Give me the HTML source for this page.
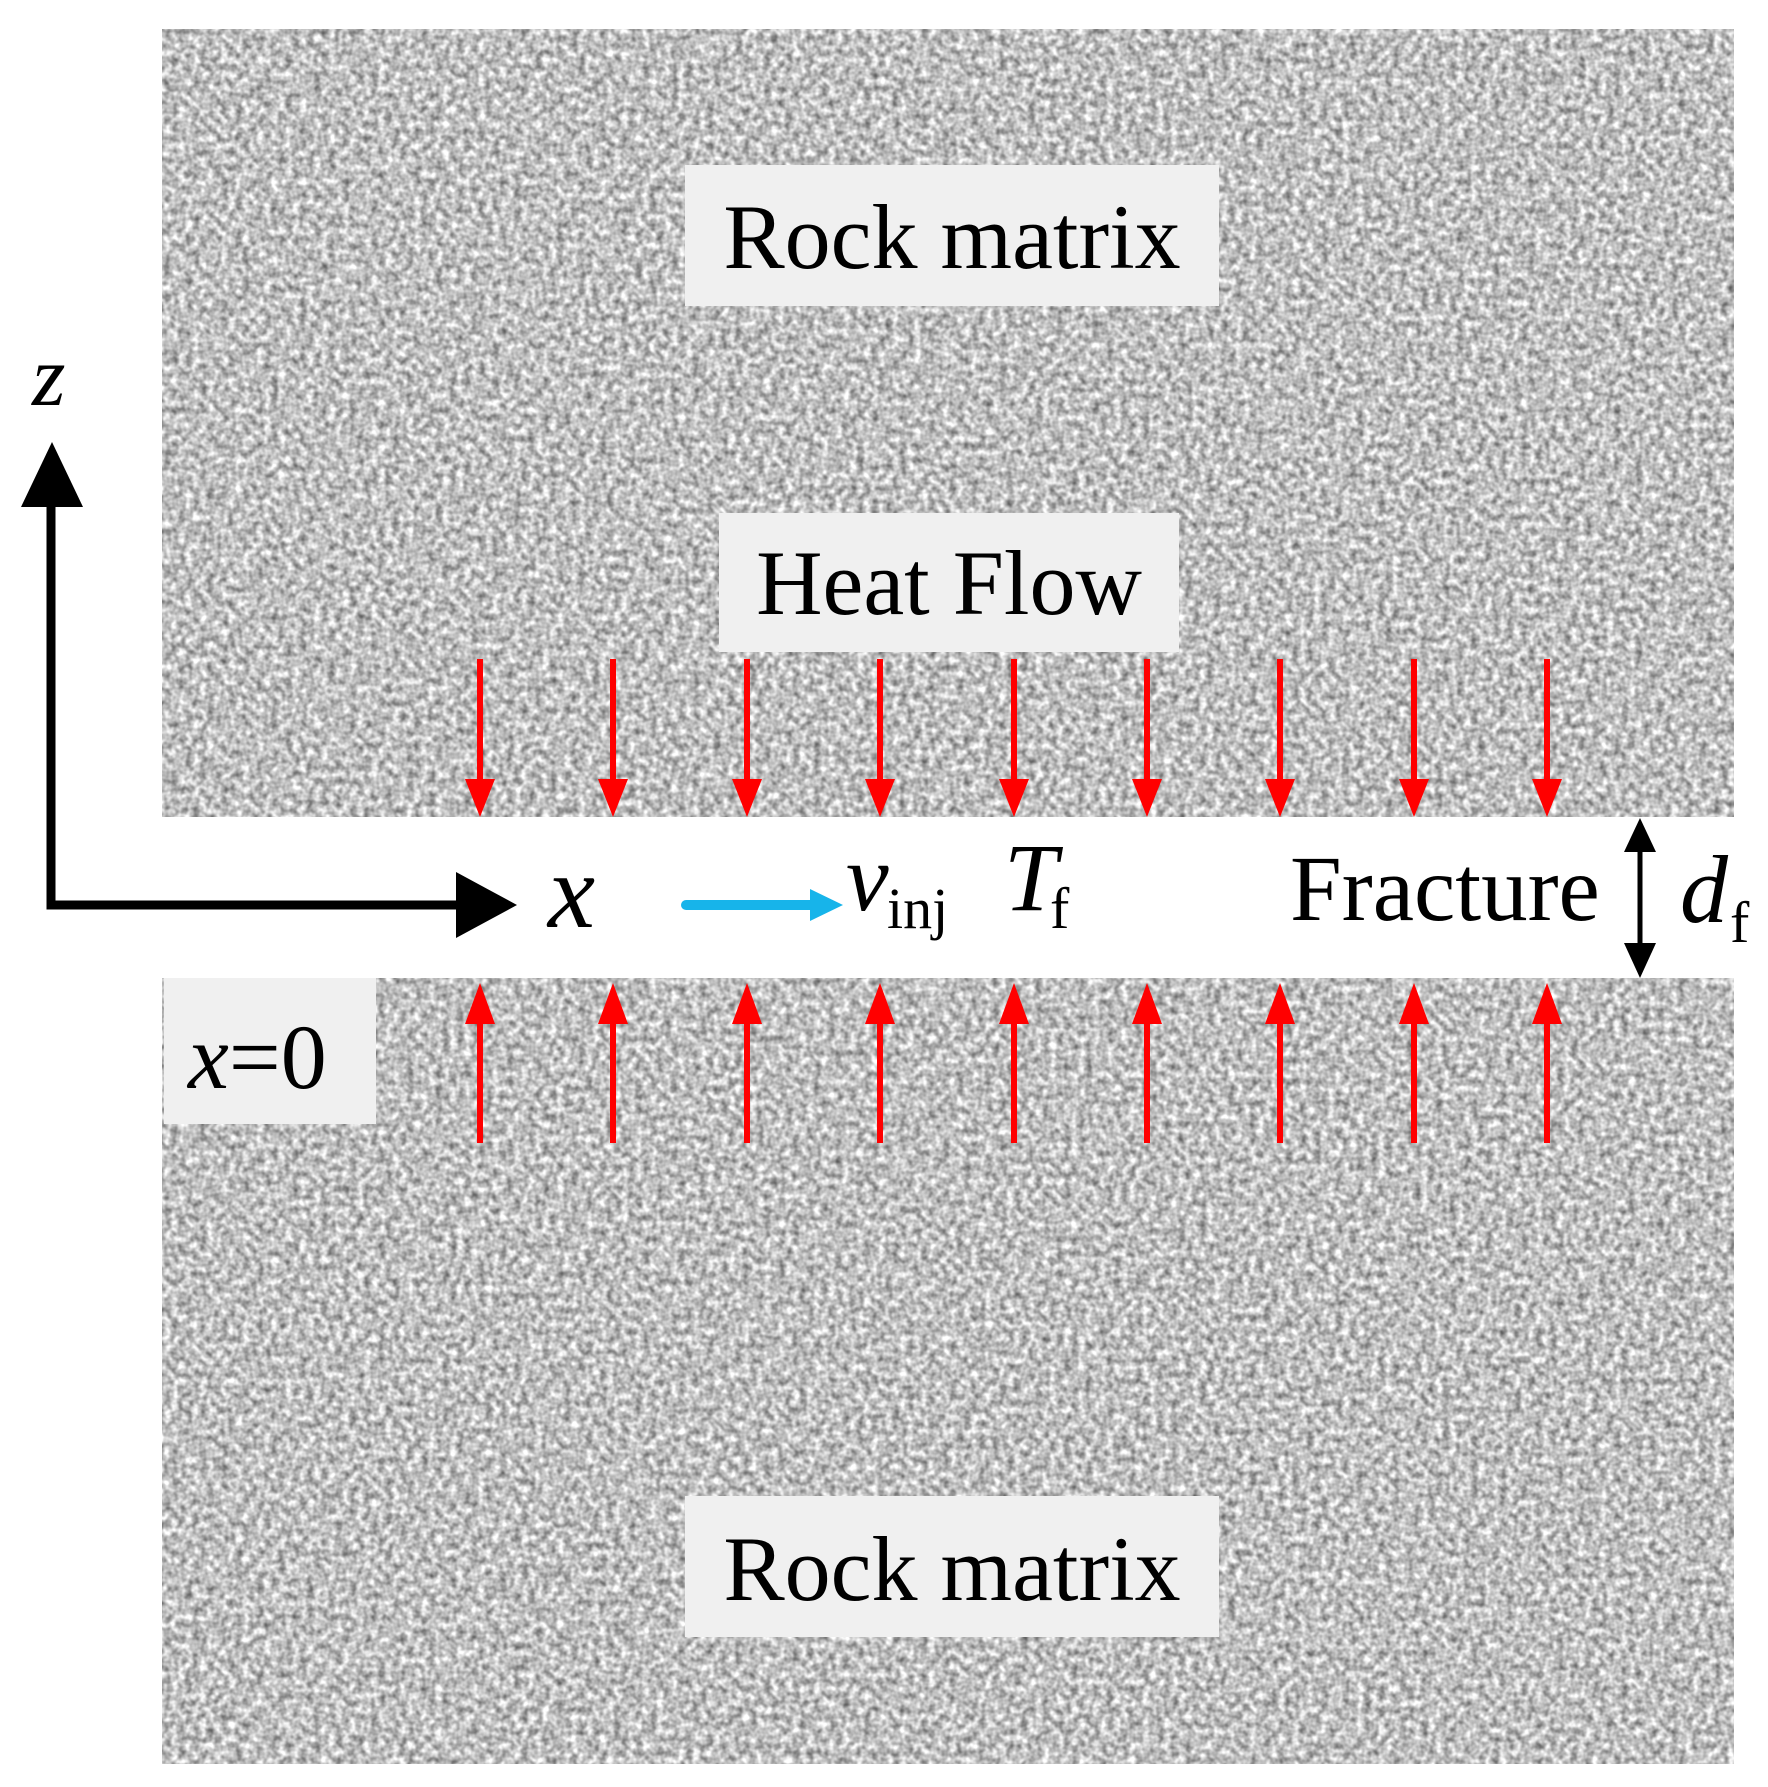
<!DOCTYPE html>
<html><head><meta charset="utf-8"><style>
html,body{margin:0;padding:0;background:#fff;}
svg{display:block}
text{font-family:"Liberation Serif",serif;fill:#000}
</style></head><body>
<svg width="1768" height="1787" viewBox="0 0 1768 1787" xmlns="http://www.w3.org/2000/svg">
<defs>
<filter id="n" x="0" y="0" width="100%" height="100%" color-interpolation-filters="sRGB">
<feTurbulence type="fractalNoise" baseFrequency="0.14" numOctaves="2" seed="3" result="t"/>
<feColorMatrix in="t" type="matrix" values="0.9 0 0 0 0.3  0.9 0 0 0 0.3  0.9 0 0 0 0.3  0 0 0 0 1"/>
</filter>
<g id="pair">
<rect x="-3" y="659" width="6" height="125"/>
<polygon points="-15,779 15,779 0,817"/>
<rect x="-3" y="1020" width="6" height="123"/>
<polygon points="-15,1024 15,1024 0,983"/>
</g>
</defs>
<rect x="162" y="29" width="1572" height="1735" fill="#bcbcbc"/>
<rect x="162" y="29" width="1572" height="1735" fill="#bcbcbc" filter="url(#n)"/>
<!-- fracture band -->
<rect x="0" y="817" width="1768" height="161" fill="#fff"/>
<!-- x=0 box -->
<rect x="164" y="978" width="212" height="146" fill="#f0f0f0"/>
<text x="188" y="1088" font-size="92"><tspan font-style="italic">x</tspan>=0</text>
<!-- labels -->
<rect x="685" y="165" width="534" height="141" fill="#f0f0f0"/>
<text x="952" y="268" font-size="92" text-anchor="middle">Rock matrix</text>
<rect x="719" y="513" width="460" height="139" fill="#f0f0f0"/>
<text x="949" y="614" font-size="92" text-anchor="middle">Heat Flow</text>
<rect x="685" y="1496" width="534" height="141" fill="#f0f0f0"/>
<text x="952" y="1600" font-size="92" text-anchor="middle">Rock matrix</text>
<!-- red arrows -->
<g fill="#ff0000" stroke="none">
<use href="#pair" x="480"/>
<use href="#pair" x="613"/>
<use href="#pair" x="747"/>
<use href="#pair" x="880"/>
<use href="#pair" x="1014"/>
<use href="#pair" x="1147"/>
<use href="#pair" x="1280"/>
<use href="#pair" x="1414"/>
<use href="#pair" x="1547"/>
</g>
<!-- axes -->
<polyline points="51,505 51,905 458,905" fill="none" stroke="#000" stroke-width="9"/>
<polygon points="21,507 83,507 52,442" fill="#000"/>
<polygon points="456,872 456,938 517,905" fill="#000"/>
<text x="32" y="405" font-size="86" font-style="italic">z</text>
<text x="548" y="927" font-size="106" font-style="italic">x</text>
<!-- cyan arrow -->
<line x1="686" y1="905" x2="815" y2="905" stroke="#17b4ea" stroke-width="10" stroke-linecap="round"/>
<polygon points="810,889 810,921 843,905" fill="#17b4ea"/>
<text x="846" y="910" font-size="96" font-style="italic">v</text>
<text x="887" y="928" font-size="58">inj</text>
<text x="1004" y="910" font-size="96" font-style="italic">T</text>
<text x="1050" y="928" font-size="58">f</text>
<text x="1290" y="920" font-size="93">Fracture</text>
<!-- double arrow -->
<line x1="1640" y1="840" x2="1640" y2="955" stroke="#000" stroke-width="5"/>
<polygon points="1624,852 1656,852 1640,818" fill="#000"/>
<polygon points="1624,943 1656,943 1640,978" fill="#000"/>
<text x="1680" y="922" font-size="96" font-style="italic">d</text>
<text x="1730" y="942" font-size="58">f</text>
</svg>
</body></html>
